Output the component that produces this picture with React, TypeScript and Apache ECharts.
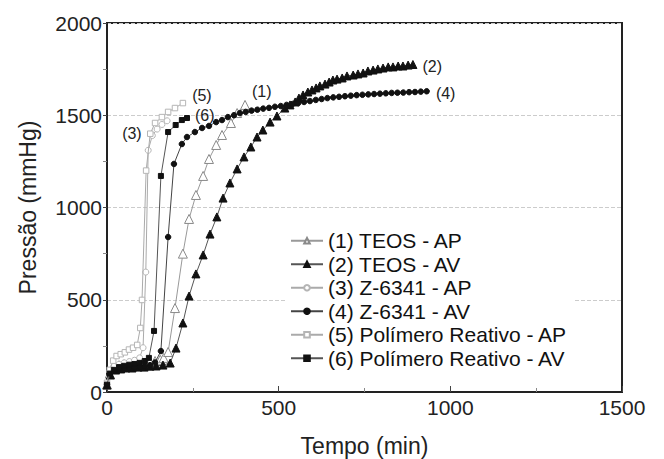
import React, { useEffect, useRef } from "react";
import * as echarts from "echarts";

const seriesNames = [
  "(1) TEOS - AP",
  "(2) TEOS - AV",
  "(3) Z-6341 - AP",
  "(4) Z-6341 - AV",
  "(5) Polímero Reativo - AP",
  "(6) Polímero Reativo - AV",
];
const endLabels = ["(1)", "(2)", "(3)", "(4)", "(5)", "(6)"];

const xTicks = [0, 500, 1000, 1500];
const yTicks = [0, 500, 1000, 1500, 2000];

// [tempo (min), pressão (mmHg)]
const teosAP = [
  [0, 40], [8, 100], [20, 130], [35, 145], [50, 150], [65, 152], [80, 155], [95, 158],
  [110, 160], [125, 163], [140, 168], [155, 175], [165, 185], [178, 217], [198, 455],
  [221, 750], [239, 938], [259, 1068], [280, 1171], [297, 1263], [318, 1339], [335, 1393],
  [361, 1458], [379, 1512], [402, 1556],
];
const teosAV = [
  [0, 38], [10, 92], [25, 119], [40, 125], [55, 130], [73, 130], [90, 135], [108, 135],
  [125, 140], [143, 141], [163, 146], [184, 157], [201, 238], [221, 374], [239, 520],
  [259, 640], [280, 743], [300, 856], [320, 949], [338, 1051], [358, 1133], [379, 1209],
  [399, 1274], [419, 1328], [437, 1382], [454, 1420], [475, 1463], [495, 1496], [518, 1539],
  [533, 1556], [548, 1572], [559, 1593], [571, 1610], [585, 1626], [597, 1637], [609, 1648],
  [620, 1659], [635, 1669], [647, 1680], [658, 1691], [670, 1696], [685, 1702], [699, 1713],
  [717, 1718], [731, 1724], [746, 1729], [760, 1740], [775, 1745], [789, 1751], [804, 1756],
  [819, 1762], [833, 1762], [848, 1767], [862, 1767], [877, 1772], [891, 1775],
];
const z6341AP = [
  [0, 45], [8, 110], [20, 140], [35, 150], [50, 158], [65, 165], [80, 172], [95, 185],
  [105, 240], [113, 650], [120, 1310], [132, 1390], [146, 1425], [160, 1450], [175, 1470],
];
const z6341AV = [
  [0, 40], [8, 95], [20, 115], [35, 125], [50, 130], [65, 132], [80, 135], [95, 138],
  [110, 140], [125, 145], [140, 160], [157, 222], [178, 840], [195, 1236], [218, 1344],
  [233, 1382], [256, 1409], [277, 1431], [297, 1442], [318, 1463], [335, 1474], [352, 1490],
  [370, 1500], [387, 1512], [404, 1518], [421, 1525], [438, 1530], [455, 1536], [472, 1540],
  [489, 1546], [506, 1550], [523, 1556], [540, 1561], [557, 1566], [574, 1572], [591, 1577],
  [608, 1583], [625, 1588], [642, 1593], [659, 1597], [676, 1600], [693, 1603], [710, 1606],
  [727, 1609], [744, 1611], [761, 1613], [778, 1615], [795, 1617], [812, 1619], [829, 1621],
  [846, 1622], [863, 1623], [880, 1625], [897, 1626], [914, 1628], [931, 1630],
];
const polyAP = [
  [0, 50], [8, 120], [18, 170], [28, 195], [40, 205], [52, 215], [64, 230], [76, 240],
  [88, 255], [97, 347], [102, 499], [114, 1200], [126, 1400], [140, 1458], [160, 1490],
  [178, 1518], [198, 1539], [221, 1566],
];
const polyAV = [
  [0, 40], [8, 100], [20, 120], [35, 135], [50, 142], [65, 148], [80, 152], [95, 158],
  [110, 168], [122, 185], [137, 331], [157, 1171], [178, 1409], [200, 1447], [218, 1474],
  [233, 1485],
];

const FONT = "'Liberation Sans', Arial, Helvetica, sans-serif";

export default function App() {
  const ref = useRef<HTMLDivElement>(null);
  useEffect(() => {
    if (!ref.current) return;
    const chart = echarts.init(ref.current, undefined, { renderer: "svg" });

    const styles = [
      { data: teosAP, symbol: "triangle", size: 9, fill: "#fff", border: "#8a8a8a", line: "#999", labelIdx: -1, pos: "right", dist: 2, off: [0, -13] },
      { data: teosAV, symbol: "triangle", size: 8, fill: "#111", border: "#111", line: "#555", labelIdx: -1, pos: "right", dist: 5, off: [0, 2] },
      { data: z6341AP, symbol: "circle", size: 6, fill: "#fff", border: "#b5b5b5", line: "#aaa", labelIdx: 10, pos: "left", dist: 3, off: [0, -17] },
      { data: z6341AV, symbol: "circle", size: 5.5, fill: "#111", border: "#111", line: "#444", labelIdx: -1, pos: "right", dist: 6, off: [0, 2] },
      { data: polyAP, symbol: "rect", size: 5.5, fill: "#fff", border: "#b5b5b5", line: "#aaa", labelIdx: -1, pos: "right", dist: 6, off: [0, -8] },
      { data: polyAV, symbol: "rect", size: 5, fill: "#111", border: "#111", line: "#555", labelIdx: -1, pos: "right", dist: 5, off: [0, -3] },
    ];

    const series = styles.map((s, i) => {
      const li = s.labelIdx < 0 ? s.data.length - 1 : s.labelIdx;
      return {
        name: seriesNames[i],
        type: "line",
        symbol: s.symbol,
        symbolSize: s.size,
        showAllSymbol: true,
        lineStyle: { color: s.line, width: 1 },
        itemStyle: { color: s.fill, borderColor: s.border, borderWidth: 1 },
        z: 3 + i,
        data: s.data.map((d, k) =>
          k === li
            ? {
                value: d,
                label: {
                  show: true,
                  formatter: endLabels[i],
                  position: s.pos,
                  distance: s.dist,
                  offset: s.off,
                  color: "#222",
                  fontSize: 16,
                  fontFamily: FONT,
                },
              }
            : d
        ),
      };
    });

    chart.setOption({
      animation: false,
      backgroundColor: "#fff",
      grid: {
        left: 107,
        right: 42,
        top: 23,
        bottom: 67,
        containLabel: false,
        outerBoundsMode: "none",
        show: true,
        borderColor: "#222",
        borderWidth: 2,
        backgroundColor: "transparent",
      },
      legend: {
        orient: "vertical",
        left: 286,
        top: 228,
        itemWidth: 32,
        itemHeight: 7,
        itemGap: 2,
        backgroundColor: "#fff",
        padding: [2, 6, 2, 4],
        textStyle: { fontSize: 21, color: "#111", fontFamily: FONT, lineHeight: 21.5 },
        data: seriesNames,
      },
      xAxis: {
        type: "value",
        min: xTicks[0],
        max: xTicks[xTicks.length - 1],
        interval: 500,
        name: "Tempo (min)",
        nameLocation: "middle",
        nameGap: 42,
        nameTextStyle: { fontSize: 23, color: "#222", fontFamily: FONT },
        axisLine: { lineStyle: { color: "#222", width: 2 } },
        axisTick: { inside: true, length: 6, lineStyle: { color: "#444", width: 1 } },
        minorTick: { show: true, splitNumber: 2, length: 4, lineStyle: { color: "#888" } },
        axisLabel: { fontSize: 21, color: "#222", fontFamily: FONT, margin: 5, formatter: (v: number) => String(v) },
        splitLine: { show: false },
      },
      yAxis: {
        type: "value",
        min: yTicks[0],
        max: yTicks[yTicks.length - 1],
        interval: 500,
        name: "Pressão (mmHg)",
        nameLocation: "middle",
        nameGap: 68,
        nameTextStyle: { fontSize: 23, color: "#222", fontFamily: FONT },
        axisLine: { lineStyle: { color: "#222", width: 2 } },
        axisTick: { inside: false, length: 4, lineStyle: { color: "#444", width: 1 } },
        minorTick: { show: true, splitNumber: 2, length: 4, lineStyle: { color: "#888" } },
        axisLabel: { fontSize: 21, color: "#222", fontFamily: FONT, margin: 5, formatter: (v: number) => String(v) },
        splitLine: { show: true, lineStyle: { color: "#ccc", type: "dashed", width: 1 } },
      },
      series,
    });
    return () => chart.dispose();
  }, []);
  return <div ref={ref} style={{ width: 664, height: 459, position: "absolute", left: 0, top: 0 }} />;
}
